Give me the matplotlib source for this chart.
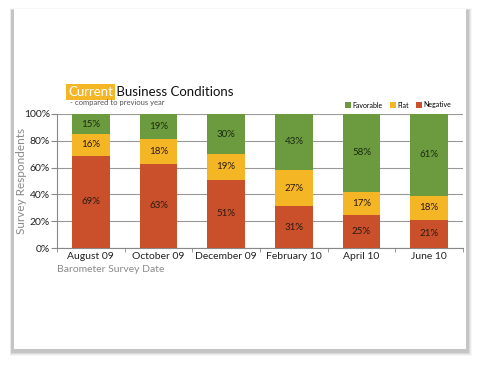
import matplotlib.pyplot as plt
import matplotlib.patches as mpatches
import numpy as np

plt.rcParams['font.family'] = ['Lato', 'DejaVu Sans']

dates = ['August 09', 'October 09', 'December 09', 'February 10', 'April 10', 'June 10']
negative = [69, 63, 51, 31, 25, 21]
flat = [16, 18, 19, 27, 17, 18]
favorable = [15, 19, 30, 43, 58, 61]

c_neg = '#c9502b'
c_flat = '#f5b625'
c_fav = '#6c9b3f'

fig = plt.figure(figsize=(4.8, 3.67), dpi=100)
fig.patch.set_facecolor('white')

# card with soft shadow
W, H = 480, 367
for i, a in enumerate([0.03, 0.05, 0.07, 0.09]):
    d = 4 - i
    fig.patches.append(mpatches.Rectangle(((12 - d * 0.6) / W, (367 - 352 - d) / H),
                                          (456 + d * 1.6) / W, (342 + d * 1.5) / H,
                                          transform=fig.transFigure, facecolor='black',
                                          alpha=a, edgecolor='none', zorder=0))
fig.patches.append(mpatches.Rectangle((14 / W, (367 - 349) / H), 452 / W, 340 / H,
                                      transform=fig.transFigure, facecolor='white',
                                      edgecolor='none', zorder=0.5))

ax = fig.add_axes([57 / W, 1 - 248 / H, 406 / W, 134 / H])
ax.set_zorder(2)
ax.set_facecolor('none')
x = np.arange(len(dates))
w = 0.56
neg = np.array(negative)
fl = np.array(flat)
fav = np.array(favorable)
ax.bar(x, neg, w, color=c_neg, zorder=3, label='Negative')
ax.bar(x, fl, w, bottom=neg, color=c_flat, zorder=3, label='Flat')
ax.bar(x, fav, w, bottom=neg + fl, color=c_fav, zorder=3, label='Favorable')

for i in range(len(dates)):
    ax.text(x[i], neg[i] / 2, f'{negative[i]}%', ha='center', va='center', fontsize=7, color='#2a1a10', zorder=4)
    ax.text(x[i], neg[i] + fl[i] / 2, f'{flat[i]}%', ha='center', va='center', fontsize=7, color='#2a1a10', zorder=4)
    ax.text(x[i], min(neg[i] + fl[i] + fav[i] / 2, 94), f'{favorable[i]}%', ha='center', va='center', fontsize=7, color='#1a2a10', zorder=4)

ax.set_xlim(-0.5, len(dates) - 0.5)
ax.set_ylim(0, 100)
ax.set_yticks(range(0, 101, 20))
ax.set_yticklabels([f'{v}%' for v in range(0, 101, 20)], fontsize=7.5, color='#222222')
ax.set_xticks(x)
ax.set_xticklabels(dates, fontsize=7.5, color='#222222')
ax.set_xticks(np.arange(-0.5, len(dates), 1), minor=True)
ax.tick_params(axis='x', which='major', length=0, pad=3)
ax.tick_params(axis='x', which='minor', length=3, color='#888888', direction='out')
ax.tick_params(axis='y', length=4, color='#888888', pad=1)
ax.yaxis.grid(True, color='#999999', linewidth=0.8, zorder=0)
for s in ['top', 'right']:
    ax.spines[s].set_visible(False)
ax.spines['left'].set_color('#888888')
ax.spines['bottom'].set_color('#888888')

ax.set_ylabel('Survey Respondents', fontsize=8.5, color='#8a8a8a')
ax.yaxis.set_label_coords(-30 / 406, 0.5)
fig.text(57 / W, 1 - 270 / H, 'Barometer Survey Date', fontsize=7.5, color='#8a8a8a', va='center')

# title
t1 = fig.text(68 / W, 1 - 92 / H, 'Current', fontsize=9.5, color='white', va='center', zorder=3,
              bbox=dict(boxstyle='square,pad=0.12', facecolor='#f5b625', edgecolor='none'))
t2 = fig.text(0, 0, ' Business Conditions', fontsize=9.5, color='#111111', va='bottom', zorder=3)
fig.canvas.draw()
bb = t1.get_window_extent()
t2.set_position((bb.x1 / fig.bbox.width, bb.y0 / fig.bbox.height))
fig.text(70 / W, 1 - 103 / H, '- compared to previous year', fontsize=5.5, color='#555555', va='center', zorder=3)

h, l = ax.get_legend_handles_labels()
fig.legend(h[::-1], l[::-1], loc='center right', bbox_to_anchor=(458 / W, 1 - 105 / H), ncol=3,
           frameon=False, fontsize=5, handlelength=0.8, handleheight=0.8, columnspacing=1.0,
           handletextpad=0.3).set_zorder(3)

fig.savefig('out.png', dpi=100)
